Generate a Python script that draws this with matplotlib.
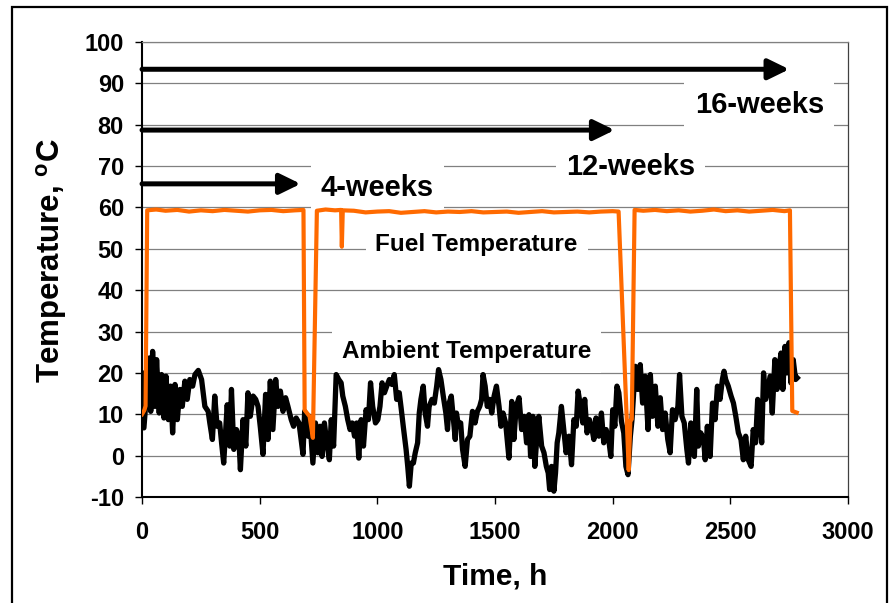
import matplotlib
matplotlib.use("Agg")
import matplotlib.pyplot as plt
from matplotlib.patches import Rectangle

plt.rcParams['font.family'] = ['Liberation Sans', 'DejaVu Sans']
plt.rcParams['font.weight'] = 'bold'
plt.rcParams['axes.unicode_minus'] = False
plt.rcParams['mathtext.fontset'] = 'custom'
plt.rcParams['mathtext.bf'] = 'Liberation Sans:bold'
plt.rcParams['mathtext.rm'] = 'Liberation Sans:bold'

# ambient temperature (h, degC)
amb_t = [0, 3, 8, 31, 37, 45, 55, 62, 73, 83, 93, 102, 112, 121, 130, 140, 150, 161, 171, 182,
         192, 203, 215, 225, 239, 253, 267, 281, 288, 299, 309, 319, 330, 338, 347, 362, 373, 380, 390, 401,
         411, 418, 429, 441, 450, 460, 472, 483, 493, 503, 514, 525, 535, 545, 556, 568, 578, 588, 599, 610,
         620, 634, 644, 655, 667, 676, 684, 691, 705, 712, 726, 737, 747, 757, 765, 775, 785, 796, 804, 814,
         825, 836, 846, 853, 864, 874, 884, 893, 903, 912, 921, 931, 941, 952, 962, 971, 980, 992, 1002, 1011,
         1020, 1030, 1040, 1051, 1062, 1072, 1082, 1093, 1101, 1110, 1122, 1129, 1136, 1144, 1153, 1161, 1171, 1178, 1185, 1195,
         1203, 1213, 1220, 1232, 1242, 1252, 1260, 1270, 1280, 1291, 1298, 1305, 1314, 1322, 1331, 1336, 1345, 1354, 1362, 1373,
         1383, 1393, 1404, 1415, 1425, 1435, 1443, 1449, 1458, 1467, 1477, 1486, 1496, 1506, 1517, 1525, 1534, 1545, 1559, 1571,
         1580, 1590, 1602, 1613, 1624, 1634, 1644, 1651, 1661, 1669, 1679, 1686, 1698, 1708, 1718, 1726, 1732, 1740, 1750, 1757,
         1764, 1771, 1782, 1792, 1802, 1814, 1825, 1835, 1845, 1853, 1863, 1873, 1881, 1891, 1901, 1910, 1920, 1929, 1941, 1952,
         1962, 1972, 1983, 1992, 2000, 2009, 2018, 2026, 2037, 2047, 2056, 2065, 2075, 2082, 2096, 2107, 2117, 2127, 2138, 2150,
         2160, 2169, 2181, 2192, 2202, 2212, 2223, 2234, 2244, 2254, 2265, 2277, 2284, 2294, 2304, 2315, 2322, 2332, 2339, 2347,
         2357, 2364, 2374, 2386, 2393, 2402, 2414, 2424, 2435, 2445, 2456, 2466, 2473, 2480, 2491, 2503, 2513, 2523, 2534, 2545,
         2555, 2565, 2576, 2588, 2597, 2607, 2616, 2626, 2633, 2641, 2650, 2661, 2669, 2678, 2689, 2698, 2706, 2715, 2723, 2732,
         2740, 2749, 2757, 2767, 2777, 2784]
amb_T = [9, 20, 6.7, 23.6, 10.7, 25.2, 11.9, 23.2, 10.3, 19.6, 9.1, 19.2, 8.7, 16.8, 5.5, 17.2, 8.7, 16, 11.9, 18,
         13.6, 18.4, 16.8, 19.6, 20.6, 18.4, 11.9, 10.7, 7.9, 3.9, 14.4, 7.1, 7.9, 3.1, -1.8, 12.3, 2.3, 16, 1.5, 6.3,
         4.7, -3.4, 8.7, 2.3, 15.2, 9.5, 14.4, 13.6, 11.9, 6.7, 0.3, 14.8, 3.9, 18, 6.3, 18.4, 11.9, 15.6, 10.7, 14,
         11.9, 8.7, 7.1, 9.1, 7.9, 3.9, 0.3, 10.7, 4.7, 9.5, -1.8, 7.9, 0.7, 7.1, -0.2, 7.9, 3.1, -1, 8.7, 2.3,
         19.6, 18.4, 17.6, 14.4, 11.9, 8.7, 6.3, 7.9, 4.7, 7.9, -0.6, 8.7, 2.3, 11.1, 8.7, 17.6, 11.9, 7.9, 8.7, 11.9,
         17.6, 15.2, 16.8, 18.4, 17.2, 19.6, 13.6, 15.2, 11.5, 7.1, 1.5, -2.6, -7.4, -1.8, -1.8, 0.7, 3.1, 10.3, 13.6, 16.8,
         10.3, 7.1, 11.9, 13.6, 12.7, 16.8, 20.8, 18.4, 14.4, 10.3, 6.3, 12.7, 14.4, 9.5, 3.9, 10.3, 7.1, 7.9, 1.5, -2.6,
         3.9, 4.7, 10.7, 7.9, 10.7, 11.9, 13.6, 19.6, 16.8, 11.9, 13.6, 10.3, 14.4, 16.8, 11.9, 7.1, 10.3, 7.9, -0.6, 13.1,
         3.9, 11.9, 14, 6.3, 9.5, 3.1, 9.9, -0.2, 9.5, -2.6, 5.5, 9.5, 2.3, 0.7, -2.6, -4.2, -8.2, -2.6, -8.6, -4.2,
         3.1, 5.5, 11.9, 6.3, 0.7, 4.7, -2.2, 8.7, 7.1, 15.6, 11.9, 7.9, 13.6, 5.5, 8.7, 7.1, 3.9, 9.1, 4.7, 10.3,
         3.1, 6.3, 3.9, -0.2, 11.1, 7.1, 16.8, 15.2, 8.3, 5.5, -2.6, -4.6, 4.7, 8.7, 21.6, 16, 22, 12.7, 19.2, 6.3,
         19.6, 9.5, 16.8, 7.1, 14, 6.3, 10.3, 3.9, 0.7, 11.1, 8.7, 11.9, 19.6, 9.5, 7.9, 1.5, -1.8, 7.9, 3.9, -0.2,
         16, 2.3, 5.5, 3.9, -1, 7.1, -0.2, 12.7, 8.7, 16.8, 13.6, 18.4, 20.4, 18.4, 16.8, 14.4, 12.7, 9.5, 5.5, 3.9,
         -1, 4.7, -1, -2.6, 6.3, 3.1, 13.6, 7.9, 3.1, 20, 13.6, 16.8, 19.2, 10.3, 23.2, 16, 20.8, 24.8, 16, 26.4,
         20, 27.3, 17.6, 23.2, 18.4, 18.8]

# fuel temperature (h, degC)
fuel_t = [0, 10, 15, 22, 60, 100, 150, 200, 250, 300, 350, 400, 450, 500, 550, 600, 650, 686, 691, 712,
          726, 743, 780, 820, 846, 849, 853, 900, 950, 1000, 1050, 1100, 1150, 1200, 1250, 1300, 1350, 1400, 1450, 1500,
          1550, 1600, 1650, 1700, 1750, 1800, 1850, 1900, 1950, 2000, 2025, 2068, 2075, 2081, 2093, 2130, 2180, 2230, 2280, 2330,
          2380, 2430, 2480, 2530, 2580, 2630, 2680, 2730, 2753, 2763, 2782]
fuel_T = [10, 11, 12, 59.3, 59.5, 59.2, 59.4, 59.0, 59.3, 59.1, 59.4, 59.2, 59.0, 59.3, 59.4, 59.1, 59.3, 59.4, 11, 9.5,
          4.3, 59.2, 59.5, 59.3, 59.4, 50.5, 59.3, 59.2, 58.8, 59.0, 59.1, 58.7, 58.9, 59.1, 58.8, 59.0, 58.9, 59.1, 58.8, 58.9,
          59.0, 58.7, 58.9, 59.1, 58.8, 58.9, 59.0, 58.8, 59.0, 59.1, 59.0, -3.5, 8.4, 8.8, 59.4, 59.2, 59.4, 59.1, 59.3, 59.0,
          59.2, 59.5, 59.1, 59.3, 59.0, 59.2, 59.4, 59.1, 59.3, 10.8, 10.4]

# test durations shown as arrows
periods = ['16-weeks', '12-weeks', '4-weeks']
period_end = [2750, 2008, 674]
period_y = [93.4, 78.7, 65.7]

fig = plt.figure(figsize=(8.91, 6.03), dpi=100)
ax = fig.add_axes([0.1594, 0.1758, 0.7924, 0.7546])

ax.plot(amb_t, amb_T, color='black', lw=3.8, solid_joinstyle='round', zorder=3)
ax.plot(fuel_t, fuel_T, color='#FF6A00', lw=3.0, solid_joinstyle='round', zorder=4)

ax.set_xlim(0, 3000)
ax.set_ylim(-10, 100)
ax.set_xticks(range(0, 3001, 500))
ax.set_yticks(range(-10, 101, 10))
ax.yaxis.grid(True, color='#808080', lw=0.9, zorder=0)
ax.set_axisbelow(True)
ax.tick_params(axis='both', direction='out', length=5, width=1, labelsize=17)
ax.tick_params(axis='y', pad=8)
ax.tick_params(axis='x', pad=12)
for lab in ax.get_xticklabels() + ax.get_yticklabels():
    lab.set_fontweight('bold')
ax.spines['left'].set_linewidth(1.5)
ax.spines['bottom'].set_linewidth(1.5)
ax.spines['top'].set_color('#808080')
ax.spines['top'].set_linewidth(0.9)
ax.spines['right'].set_color('#404040')
ax.spines['right'].set_linewidth(0.9)

ax.set_xlabel('Time, h', fontsize=21.5, fontweight='bold')
ax.set_ylabel(r'Temperature, $^{\mathbf{o}}$C', fontsize=22.5, fontweight='bold')
ax.xaxis.set_label_coords(0.5, -0.145)
ax.yaxis.set_label_coords(-0.103, 0.52)

for end, y in zip(period_end, period_y):
    ax.annotate('', xy=(end, y), xytext=(0, y),
                arrowprops=dict(arrowstyle='-|>,head_length=0.45,head_width=0.22', lw=3.6,
                                color='black', mutation_scale=28, shrinkA=0, shrinkB=0),
                zorder=5)

box = dict(boxstyle='square,pad=0.35', facecolor='white', edgecolor='none')
ax.text(2623, 82.8, periods[0], fontsize=21, fontweight='bold', ha='center', va='baseline', bbox=box, zorder=2)
ax.text(2076, 67.8, periods[1], fontsize=21, fontweight='bold', ha='center', va='baseline', bbox=box, zorder=2)
ax.text(1000, 62.8, periods[2], fontsize=21, fontweight='bold', ha='center', va='baseline', bbox=box, zorder=2)
box2 = dict(boxstyle='square,pad=0.4', facecolor='white', edgecolor='none')
ax.text(1422, 49.5, 'Fuel Temperature', fontsize=17.5, fontweight='bold', ha='center', va='baseline', bbox=box2, zorder=2)
ax.text(1379, 23.6, 'Ambient Temperature', fontsize=17.5, fontweight='bold', ha='center', va='baseline', bbox=box2, zorder=2)

# outer frame of the figure
fig.patches.append(Rectangle((0.0131, -0.02), 0.9821, 1.0079, transform=fig.transFigure,
                             fill=False, edgecolor='black', lw=1.6))

fig.savefig('out.png', dpi=100)
